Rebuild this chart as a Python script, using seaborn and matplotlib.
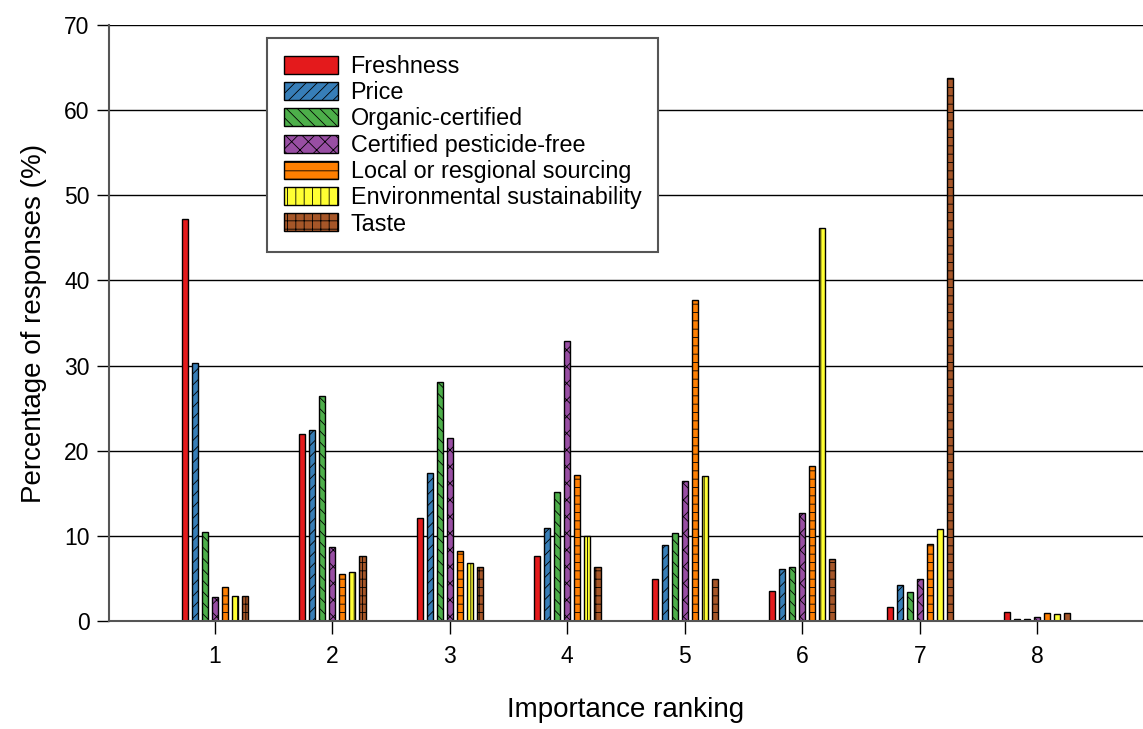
import pandas as pd
import numpy as np
import matplotlib.pyplot as plt
import seaborn as sns

# Valores (porcentaje de respuestas por posicion)
rankings = ['1', '2', '3', '4', '5', '6', '7', '8']
factores = ['Freshness', 'Price', 'Organic-certified', 'Certified pesticide-free',
            'Local or resgional sourcing', 'Environmental sustainability', 'Taste']

freshness = [47.2, 22.0, 12.1, 7.6, 4.9, 3.5, 1.7, 1.1]
price = [30.3, 22.4, 17.4, 10.9, 8.9, 6.1, 4.2, 0.3]
organic = [10.5, 26.4, 28.1, 15.2, 10.3, 6.3, 3.4, 0.3]
pesticide = [2.8, 8.7, 21.5, 32.9, 16.4, 12.7, 4.9, 0.5]
local = [4.0, 5.5, 8.2, 17.1, 37.7, 18.2, 9.0, 0.9]
environmental = [3.0, 5.8, 6.8, 10.0, 17.0, 46.2, 10.8, 0.8]
taste = [2.9, 7.6, 6.4, 6.3, 5.0, 7.3, 63.8, 0.9]

hatches = ['', '///', '\\\\\\', 'xx', '--', '||', '++']

series = [freshness, price, organic, pesticide, local, environmental, taste]
df = pd.DataFrame({
    'Ranking': np.tile(rankings, len(factores)),
    'Factor': np.repeat(factores, len(rankings)),
    'Valor': np.concatenate(series),
})

sns.set_style('white')
plt.rcParams['font.family'] = ['Liberation Sans', 'DejaVu Sans']
plt.rcParams['text.color'] = 'black'
plt.rcParams['axes.labelcolor'] = 'black'
plt.rcParams['hatch.color'] = 'black'
plt.rcParams['hatch.linewidth'] = 0.6

fig = plt.figure(figsize=(11.43, 7.29), dpi=100)
ax = fig.add_axes([0.0954, 0.148, 0.9046, 0.8177])

sns.barplot(
    data=df, x='Ranking', y='Valor', hue='Factor',
    order=rankings, hue_order=factores,
    palette='Set1', saturation=1, width=0.6, gap=0.4,
    edgecolor='black', linewidth=1,
    legend=False, ax=ax,
)

for cont, h in zip(ax.containers, hatches):
    for p in cont.patches:
        p.set_hatch(h)

handles = [c.patches[0] for c in ax.containers]
leg = ax.legend(handles, factores, loc='upper left', bbox_to_anchor=(0.153, 0.978),
                borderaxespad=0, fontsize=16.8, frameon=True, fancybox=False,
                handlelength=2.3, handleheight=0.8, handletextpad=0.55,
                labelspacing=0.14, borderpad=0.72)
leg.get_frame().set_edgecolor('#555555')
leg.get_frame().set_linewidth(1.5)
leg.get_frame().set_alpha(1)

ax.set_ylim(0, 70)
ax.set_xlim(-0.9, 7.9)
ax.set_yticks(range(0, 71, 10))
ax.yaxis.grid(True, color='black', linewidth=1)
ax.set_axisbelow(True)

for s in ['top', 'right']:
    ax.spines[s].set_visible(False)
for s in ['left', 'bottom']:
    ax.spines[s].set_color('#555555')
    ax.spines[s].set_linewidth(1.5)

ax.tick_params(axis='both', direction='out', length=9, width=1, colors='black',
               labelsize=16.5, left=True, bottom=True)
ax.tick_params(axis='x', pad=8)
ax.tick_params(axis='y', pad=5)

ax.set_xlabel('Importance ranking', fontsize=20, labelpad=21)
ax.set_ylabel('Percentage of responses (%)', fontsize=20, labelpad=12)

plt.savefig('out.png', dpi=100)
